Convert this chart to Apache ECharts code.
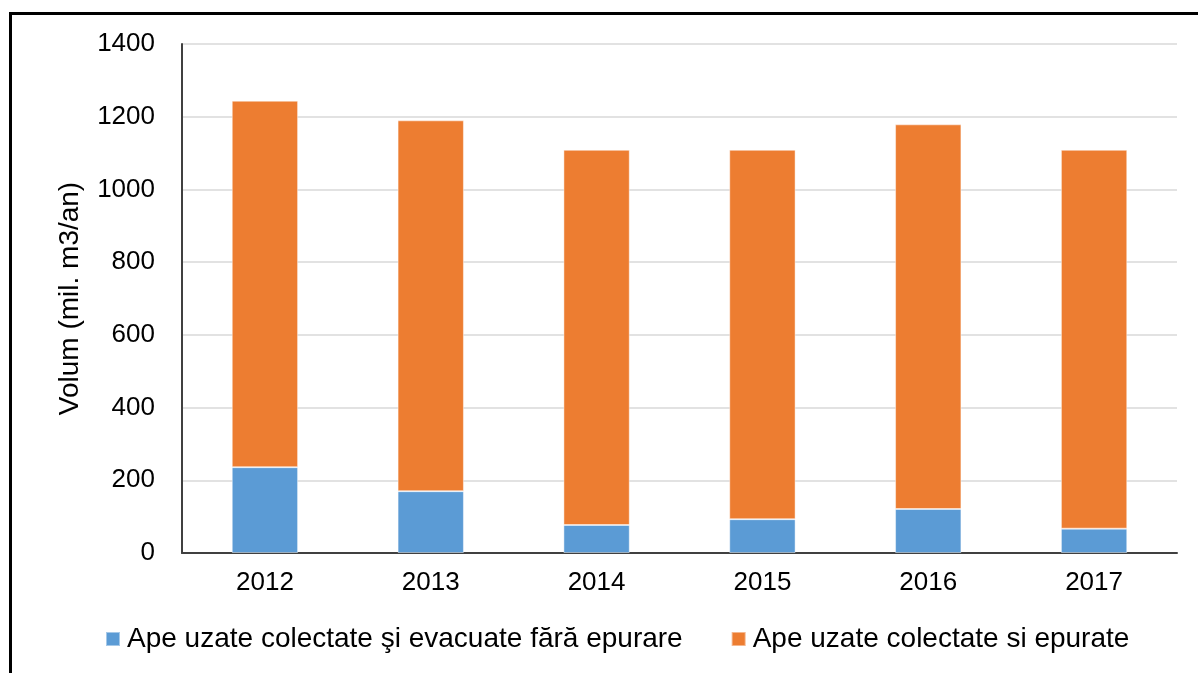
<!DOCTYPE html>
<html>
<head>
<meta charset="utf-8">
<script src="https://cdn.jsdelivr.net/npm/echarts@6/dist/echarts.min.js"></script>
<style>
html,body{margin:0;padding:0;background:#fff;}
#c{width:1198px;height:673px;}
</style>
</head>
<body>
<div id="c"></div>
<script>
const categories = ['2012', '2013', '2014', '2015', '2016', '2017'];
const seriesNames = ['Ape uzate colectate şi evacuate fără epurare', 'Ape uzate colectate si epurate'];
const untreated = [236, 170, 77, 93, 121, 67];
const treated = [1008, 1020, 1032, 1016, 1058, 1042];
const yTicks = [0, 200, 400, 600, 800, 1000, 1200, 1400];

const font = '"Liberation Sans", Arial, sans-serif';
const chart = echarts.init(document.getElementById('c'), null, {renderer: 'canvas'});
chart.setOption({
  animation: false,
  backgroundColor: '#fff',
  textStyle: {fontFamily: font},
  graphic: [{
    type: 'rect',
    shape: {x: 10.5, y: 13.5, width: 1400, height: 900},
    style: {fill: 'none', stroke: '#000', lineWidth: 3},
    z: 100
  }],
  grid: {left: 182, right: 21, top: 44, bottom: 120, containLabel: false},
  legend: {
    data: seriesNames,
    bottom: 15,
    left: 100,
    padding: 5,
    icon: 'rect',
    itemWidth: 14,
    itemHeight: 14,
    itemGap: 48,
    textStyle: {fontFamily: font, fontSize: 28, color: '#000', padding: [0, 0, 0, 2]}
  },
  xAxis: {
    type: 'category',
    data: categories,
    axisLine: {lineStyle: {color: '#404040', width: 2}},
    axisTick: {show: false},
    axisLabel: {fontFamily: font, fontSize: 26, color: '#000', margin: 17}
  },
  yAxis: {
    type: 'value',
    min: yTicks[0],
    max: yTicks[yTicks.length - 1],
    interval: 200,
    name: 'Volum (mil. m3/an)',
    nameLocation: 'middle',
    nameRotate: 90,
    nameGap: 98,
    nameTextStyle: {fontFamily: font, fontSize: 28, color: '#000'},
    axisLine: {show: true, lineStyle: {color: '#404040', width: 2}},
    axisTick: {show: false},
    axisLabel: {fontFamily: font, fontSize: 26, color: '#000', margin: 27, formatter: v => String(v)},
    splitLine: {lineStyle: {color: '#d9d9d9', width: 1.5}}
  },
  series: [
    {
      name: seriesNames[0], type: 'bar', stack: 'total', data: untreated,
      barWidth: '40%',
      itemStyle: {color: '#5B9BD5', borderColor: 'rgba(255,255,255,0.45)', borderWidth: 1}
    },
    {
      name: seriesNames[1], type: 'bar', stack: 'total', data: treated,
      barWidth: '40%',
      itemStyle: {color: '#ED7D31', borderColor: 'rgba(255,255,255,0.45)', borderWidth: 1}
    }
  ]
});
</script>
</body>
</html>
